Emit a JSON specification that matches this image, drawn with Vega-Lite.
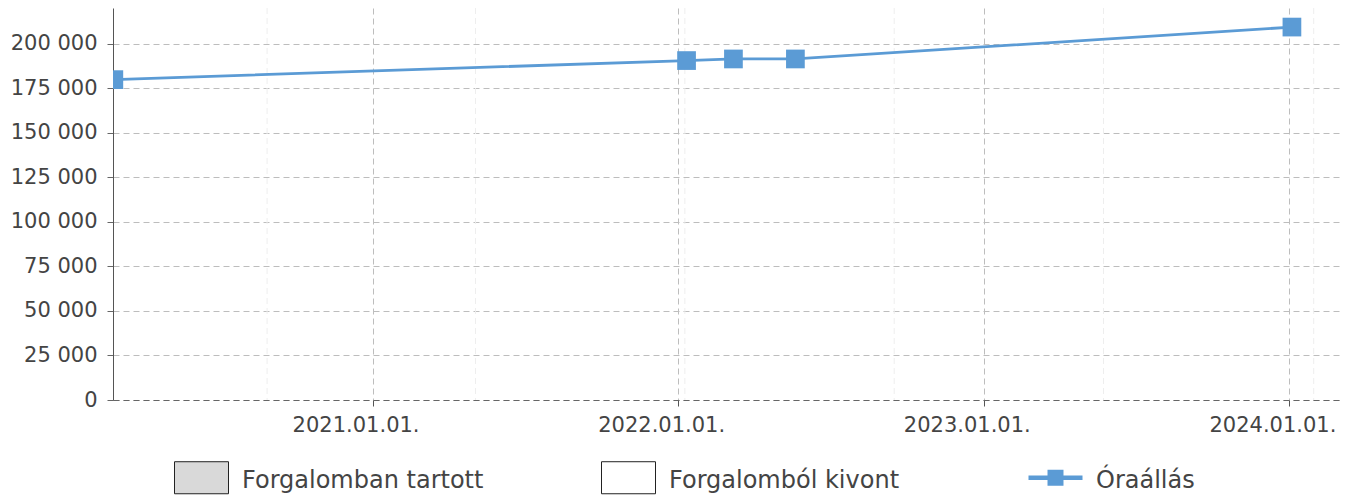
{
  "$schema": "https://vega.github.io/schema/vega-lite/v6.json",
  "width": 1230,
  "height": 392,
  "autosize": "none",
  "padding": {"left": 113, "top": 8, "right": 7, "bottom": 96},
  "background": "white",
  "config": {
    "view": {"stroke": null},
    "font": "DejaVu Sans",
    "axis": {"labelFont": "DejaVu Sans", "labelFontSize": 21, "labelColor": "#444444", "titleFont": "DejaVu Sans"},
    "legend": {"labelFont": "DejaVu Sans"}
  },
  "datasets": {
    "ora": [
      {"date": "2020-02-27", "value": 179800, "series": "Óraállás"},
      {"date": "2022-01-11", "value": 190500, "series": "Óraállás"},
      {"date": "2022-03-08", "value": 191400, "series": "Óraállás"},
      {"date": "2022-05-21", "value": 191400, "series": "Óraállás"},
      {"date": "2024-01-04", "value": 209300, "series": "Óraállás"}
    ],
    "minor": [
      {"date": "2020-08-28"},
      {"date": "2021-05-04"},
      {"date": "2022-01-09"},
      {"date": "2022-09-16"},
      {"date": "2023-05-24"},
      {"date": "2024-01-30"}
    ],
    "leg": [
      {"date": "2022-01-01", "cat": "Forgalomban tartott"},
      {"date": "2022-01-01", "cat": "Forgalomból kivont"},
      {"date": "2022-01-01", "cat": "Óraállás"}
    ]
  },
  "encoding": {
    "x": {
      "field": "date",
      "type": "temporal",
      "scale": {
        "type": "utc",
        "domain": [{"year": 2020, "month": 2, "date": 26, "utc": true}, {"year": 2024, "month": 3, "date": 5, "utc": true}]
      },
      "axis": {
        "title": null,
        "format": "%Y.%m.%d.",
        "tickCount": {"interval": "year", "step": 1},
        "grid": true,
        "gridColor": "#bdbdbd",
        "gridDash": [6, 4],
        "gridWidth": 1,
        "domainColor": "#666666",
        "domainDash": [6, 4],
        "domainWidth": 1.2,
        "tickColor": "#555555",
        "tickSize": 6,
        "labelPadding": 8,
        "labelOffset": -17,
        "labelFlush": false,
        "labelOverlap": false
      }
    }
  },
  "layer": [
    {
      "data": {"name": "minor"},
      "mark": {"type": "rule", "color": "#eeeeee", "strokeDash": [6, 4], "strokeWidth": 1},
      "encoding": {}
    },
    {
      "data": {"name": "ora"},
      "mark": {"type": "line", "color": "#5b9bd5", "strokeWidth": 2.8, "clip": true},
      "encoding": {
        "y": {
          "field": "value",
          "type": "quantitative",
          "scale": {"domain": [0, 220000], "nice": false, "zero": true},
          "axis": {
            "title": null,
            "values": [0, 25000, 50000, 75000, 100000, 125000, 150000, 175000, 200000],
            "labelExpr": "replace(format(datum.value, ','), ',', ' ')",
            "grid": true,
            "gridColor": "#bdbdbd",
            "gridDash": [6, 4],
            "gridWidth": 1,
            "domainColor": "#555555",
            "domainWidth": 1,
            "tickColor": "#666666",
            "tickSize": 6,
            "labelPadding": 10
          }
        }
      }
    },
    {
      "data": {"name": "ora"},
      "mark": {"type": "square", "color": "#5b9bd5", "filled": true, "size": 350, "opacity": 1, "clip": true},
      "encoding": {
        "y": {"field": "value", "type": "quantitative"}
      }
    },
    {
      "data": {"name": "leg"},
      "mark": {"type": "point", "filled": true, "opacity": 0},
      "encoding": {
        "fill": {
          "field": "cat",
          "type": "nominal",
          "scale": {"domain": ["Forgalomban tartott", "Forgalomból kivont", "Óraállás"], "range": ["#d9d9d9", "#ffffff", "#5b9bd5"]},
          "legend": {
            "title": null,
            "orient": "none",
            "legendX": 61,
            "legendY": 442,
            "direction": "horizontal",
            "columns": 3,
            "gridAlign": "all",
            "columnPadding": 115,
            "symbolSize": 2916,
            "symbolOpacity": 1,
            "symbolStrokeWidth": 1,
            "labelFontSize": 24,
            "labelColor": "#444444",
            "labelOffset": 13,
            "labelLimit": 400,
            "padding": 0,
            "encode": {"labels": {"update": {"dy": {"value": 3}}}}
          }
        },
        "shape": {
          "field": "cat",
          "type": "nominal",
          "scale": {
            "domain": ["Forgalomban tartott", "Forgalomból kivont", "Óraállás"],
            "range": ["M-1,-0.593H1V0.593H-1Z", "M-1,-0.593H1V0.593H-1Z", "M0,-0.593L0,-0.593M0,0.593L0,0.593M-1,-0.087H1V0.087H-1Z M-0.296,-0.296H0.296V0.296H-0.296Z"]
          },
          "legend": {
            "title": null,
            "orient": "none",
            "legendX": 61,
            "legendY": 442,
            "direction": "horizontal",
            "columns": 3,
            "gridAlign": "all",
            "columnPadding": 115,
            "symbolSize": 2916,
            "symbolOpacity": 1,
            "symbolStrokeWidth": 1,
            "labelFontSize": 24,
            "labelColor": "#444444",
            "labelOffset": 13,
            "labelLimit": 400,
            "padding": 0,
            "encode": {"labels": {"update": {"dy": {"value": 3}}}}
          }
        },
        "stroke": {
          "field": "cat",
          "type": "nominal",
          "scale": {"domain": ["Forgalomban tartott", "Forgalomból kivont", "Óraállás"], "range": ["#222222", "#222222", "transparent"]},
          "legend": {
            "title": null,
            "orient": "none",
            "legendX": 61,
            "legendY": 442,
            "direction": "horizontal",
            "columns": 3,
            "gridAlign": "all",
            "columnPadding": 115,
            "symbolSize": 2916,
            "symbolOpacity": 1,
            "symbolStrokeWidth": 1,
            "labelFontSize": 24,
            "labelColor": "#444444",
            "labelOffset": 13,
            "labelLimit": 400,
            "padding": 0,
            "encode": {"labels": {"update": {"dy": {"value": 3}}}}
          }
        }
      }
    }
  ]
}
